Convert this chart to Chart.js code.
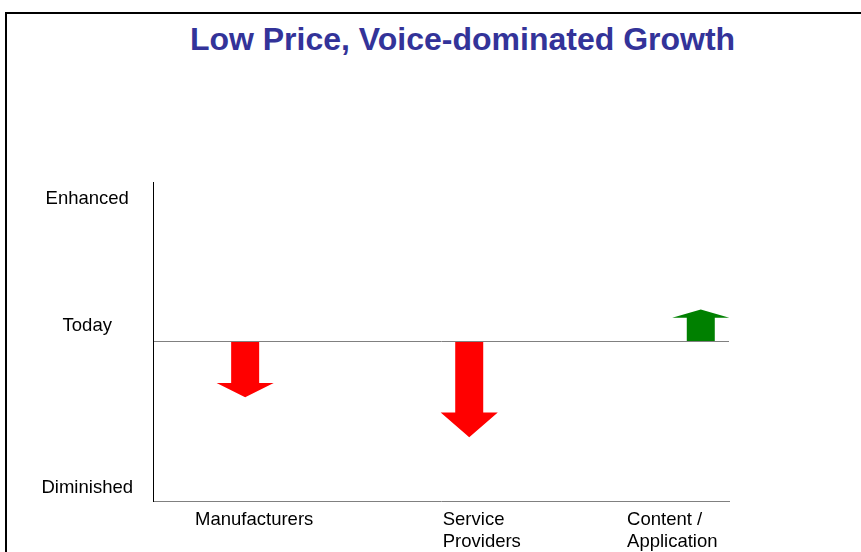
<!DOCTYPE html>
<html>
<head>
<meta charset="utf-8">
<script src="https://cdn.jsdelivr.net/npm/chart.js@4"></script>
<style>
    html, body { margin: 0; padding: 0; background: #fff; }
    #wrap { position: relative; width: 861px; height: 552px; overflow: hidden; }
    #frame {
        position: absolute; left: 5px; top: 12px; width: 900px; height: 600px;
        border-top: 2px solid #000; border-left: 2px solid #000;
    }
    #title {
        position: absolute; left: 0; top: 24px; width: 925px; text-align: center;
        font: bold 32px/31px "Liberation Sans", Arial, sans-serif; color: #333399;
    }
    #chart { position: absolute; left: 0; top: 0; }
</style>
</head>
<body>
<div id="wrap">
    <div id="frame"></div>
    <div id="title">Low Price, Voice-dominated Growth</div>
    <canvas id="chart" width="861" height="552"></canvas>
</div>
<script>
// players and where each one moves relative to today
const categories = ["Manufacturers", ["Service", "Providers"], ["Content /", "Application"]];
const labelPositions = [7.3, 50.3, 82.3];
const arrowPositions = [16, 54.9, 95.1];
const changes = [-0.35, -0.6, 0.2];
const arrowColors = ["#ff0000", "#ff0000", "#008000"];

// level axis
const levelLabels = ["Enhanced", "Today", "Diminished"];
const levelValues = [0.895, 0.095, -0.92];

// bars are invisible, this turns each one into an arrow
const arrowPlugin = {
    id: "arrows",
    afterDatasetsDraw(chart) {
        const ctx = chart.ctx;
        const meta = chart.getDatasetMeta(0);
        meta.data.forEach((bar, i) => {
            const half = bar.width / 2;
            const headHalf = bar.width * 1.02;
            const dir = bar.y > bar.base ? 1 : -1;
            const headLen = Math.abs(bar.y - bar.base) * 0.26;
            const neck = bar.y - dir * headLen;
            ctx.save();
            ctx.fillStyle = arrowColors[i];
            ctx.beginPath();
            ctx.moveTo(bar.x - half, bar.base);
            ctx.lineTo(bar.x + half, bar.base);
            ctx.lineTo(bar.x + half, neck);
            ctx.lineTo(bar.x + headHalf, neck);
            ctx.lineTo(bar.x, bar.y);
            ctx.lineTo(bar.x - headHalf, neck);
            ctx.lineTo(bar.x - half, neck);
            ctx.closePath();
            ctx.fill();
            ctx.restore();
        });
    }
};

const labelFont = { family: "'Liberation Sans', Arial, sans-serif", size: 18.5, lineHeight: 1.2 };

new Chart(document.getElementById("chart"), {
    type: "bar",
    data: {
        datasets: [{
            data: arrowPositions.map((x, i) => ({ x: x, y: changes[i] })),
            backgroundColor: "rgba(0,0,0,0)",
            barThickness: 28
        }]
    },
    options: {
        responsive: false,
        animation: false,
        layout: { padding: { top: 182, right: 132, bottom: 0, left: 0 } },
        plugins: { legend: { display: false }, tooltip: { enabled: false } },
        scales: {
            x: {
                type: "linear",
                min: 0,
                max: 100,
                offset: false,
                afterBuildTicks: scale => {
                    scale.ticks = labelPositions.map(v => ({ value: v }));
                },
                afterFit: scale => { scale.height = 51; },
                grid: { display: false },
                border: { display: true, color: "#808080", width: 1 },
                ticks: {
                    align: "start",
                    padding: 0,
                    maxRotation: 0,
                    autoSkip: false,
                    color: "#000",
                    font: labelFont,
                    callback: value => categories[labelPositions.indexOf(value)]
                }
            },
            y: {
                min: -1,
                max: 1,
                afterBuildTicks: scale => {
                    scale.ticks = levelValues.concat([0]).map(v => ({ value: v }));
                },
                afterFit: scale => { scale.width = 153; },
                grid: {
                    drawTicks: false,
                    color: c => (c.tick && c.tick.value === 0 ? "#808080" : "rgba(0,0,0,0)")
                },
                border: { display: true, color: "#000", width: 1 },
                ticks: {
                    crossAlign: "center",
                    padding: 20,
                    color: "#000",
                    font: labelFont,
                    callback: value => {
                        const i = levelValues.indexOf(value);
                        return i < 0 ? "" : levelLabels[i];
                    }
                }
            }
        }
    },
    plugins: [arrowPlugin]
});
</script>
</body>
</html>
